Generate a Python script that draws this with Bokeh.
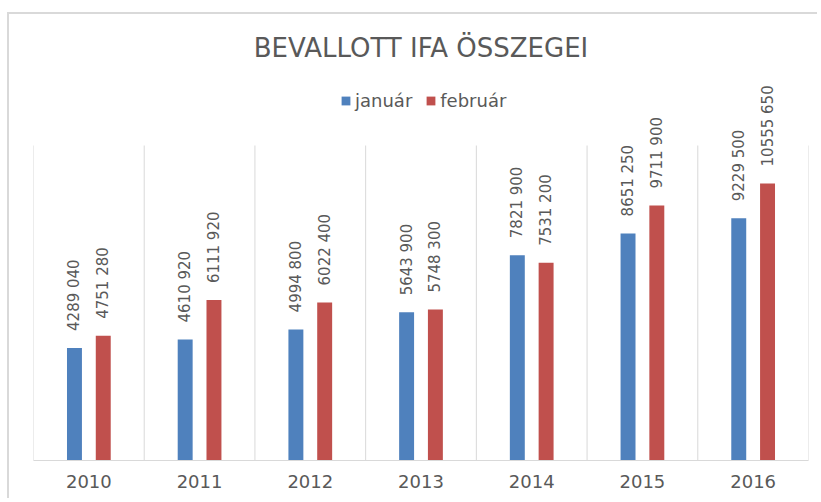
import numpy as np
from bokeh.plotting import figure
from bokeh.models import (ColumnDataSource, Range1d, FixedTicker, Legend, LegendItem,
                          LabelSet)
from bokeh.core.properties import value
from bokeh.transform import dodge
from bokeh.embed import file_html
from bokeh.resources import INLINE

# ---- data ----
years = ["2010", "2011", "2012", "2013", "2014", "2015", "2016"]
januar = [4289040, 4610920, 4994800, 5643900, 7821900, 8651250, 9229500]
februar = [4751280, 6111920, 6022400, 5748300, 7531200, 9711900, 10555650]
series_names = ["január", "február"]
chart_title = "BEVALLOTT IFA ÖSSZEGEI"
Y_MAX = 12_000_000

# ---- style ----
BLUE = "#4f81bd"
RED = "#c0504d"
TEXT = "#595959"
GRID = "#d9d9d9"

W, H = 810, 486
TOP, BOTTOM, LEFT, RIGHT = 50, 40, 24, 11
TOP_PAD_PX = 81  # pixels between frame top and the 12M line
frame_h = H - TOP - BOTTOM
y_end = Y_MAX * frame_h / (frame_h - TOP_PAD_PX)


def fmt(v):
    return f"{v // 1000} {v % 1000:03d}"


n = len(years)
centers = [i + 0.5 for i in range(n)]
src = ColumnDataSource(dict(
    x=centers, jan=januar, feb=februar,
    jan_lab=[fmt(v) for v in januar], feb_lab=[fmt(v) for v in februar],
))

p = figure(width=W, height=H, output_backend="svg", toolbar_location=None,
           x_range=Range1d(0, n), y_range=Range1d(0, y_end),
           y_axis_location=None, min_border_top=TOP, min_border_bottom=BOTTOM,
           min_border_left=LEFT, min_border_right=RIGHT)
p.outline_line_color = None
p.xgrid.visible = False
p.ygrid.visible = False
p.background_fill_color = "white"
p.border_fill_color = "white"
# outer chart-area border (light gray lines on left and top)
p.styles = {"margin-left": "7px", "margin-top": "12px",
            "border-left": "2px solid #d9d9d9", "border-top": "2px solid #d9d9d9"}

# category separator lines
bounds = list(range(n + 1))
p.segment(x0=bounds, y0=[0] * len(bounds), x1=bounds, y1=[Y_MAX] * len(bounds),
          line_color=GRID, line_width=1)

BW = 0.135
OFF = 0.13
r1 = p.vbar(x=dodge("x", -OFF, range=p.x_range), top="jan", width=BW, source=src,
            fill_color=BLUE, line_color=None)
r2 = p.vbar(x=dodge("x", OFF, range=p.x_range), top="feb", width=BW, source=src,
            fill_color=RED, line_color=None)

for col, lab, off in (("jan", "jan_lab", -OFF), ("feb", "feb_lab", OFF)):
    ls = LabelSet(x=dodge("x", off, range=p.x_range), y=col, text=lab, source=src,
                  angle=np.pi / 2, text_align="left", text_baseline="middle",
                  y_offset=17, text_font=value("DejaVu Sans"),
                  text_font_size=value("15px"), text_color=value(TEXT))
    p.add_layout(ls)

# x axis
p.xaxis.ticker = FixedTicker(ticks=centers)
p.xaxis.major_label_overrides = {c: y for c, y in zip(centers, years)}
p.xaxis.major_tick_line_color = None
p.xaxis.minor_tick_line_color = None
p.xaxis.axis_line_color = GRID
p.xaxis.axis_line_width = 1
p.xaxis.major_label_standoff = 8
p.xaxis.major_label_text_font = "DejaVu Sans"
p.xaxis.major_label_text_font_size = "18px"
p.xaxis.major_label_text_color = TEXT

# title
p.title.text = chart_title
p.title.align = "center"
p.title.text_font = "DejaVu Sans"
p.title.text_font_size = "26px"
p.title.text_font_style = "normal"
p.title.text_color = TEXT
p.title.standoff = 4

# legend (bottom-left corner given relative to the frame's bottom-left, in px)
legend = Legend(items=[LegendItem(label=series_names[0], renderers=[r1]),
                       LegendItem(label=series_names[1], renderers=[r2])],
                location=(307, 349), orientation="horizontal",
                margin=0, padding=2, spacing=13, label_standoff=4,
                glyph_width=11, glyph_height=11,
                label_text_font="DejaVu Sans",
                label_text_font_size="18px", label_text_color=TEXT,
                border_line_color=None, background_fill_alpha=0)
p.add_layout(legend)

open("out.html", "w").write(file_html(p, INLINE))
